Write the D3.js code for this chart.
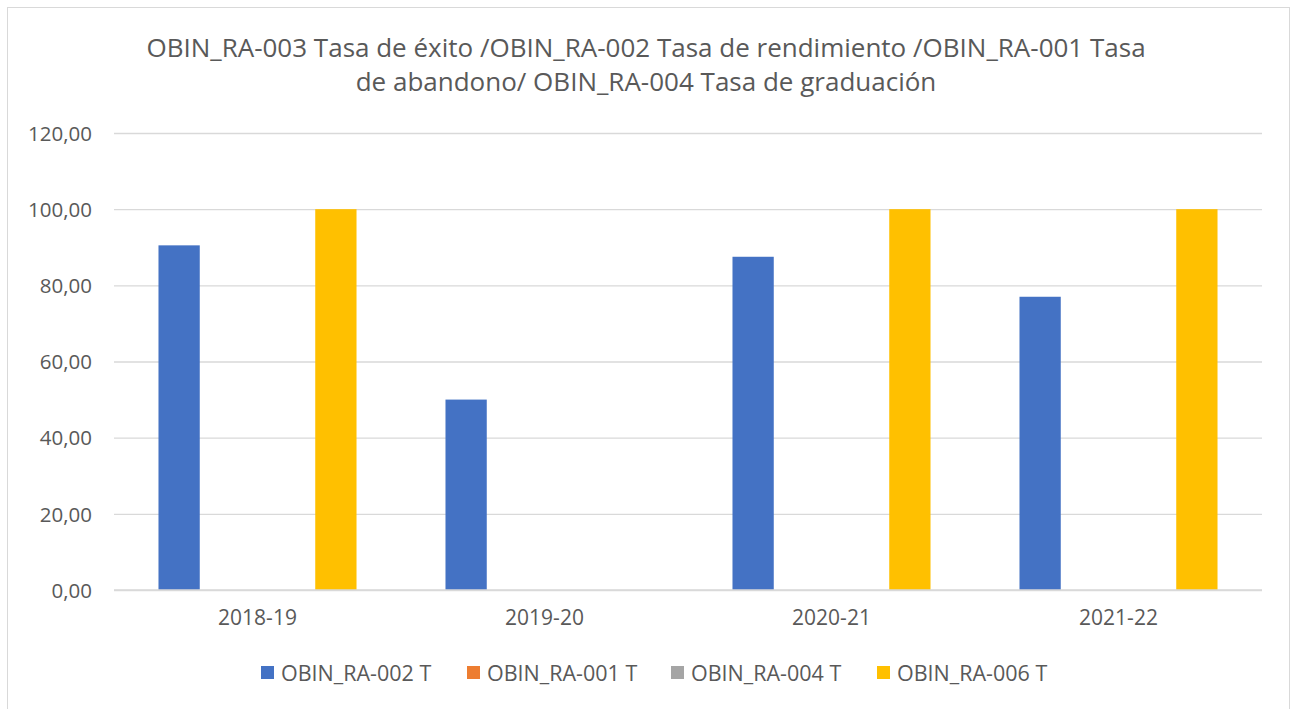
<!DOCTYPE html>
<html>
<head>
<meta charset="utf-8">
<script src="https://cdn.jsdelivr.net/npm/d3@7"></script>
<style>
  html, body { margin: 0; padding: 0; background: #fff; }
  svg { display: block; }
  text { font-family: "Open Sans", "Noto Sans", sans-serif; fill: #595959; }
</style>
</head>
<body>
<svg id="chart" width="1291" height="709"></svg>
<script>
const categories = ["2018-19", "2019-20", "2020-21", "2021-22"];
const seriesNames = ["OBIN_RA-002 T", "OBIN_RA-001 T", "OBIN_RA-004 T", "OBIN_RA-006 T"];
const seriesRA002 = [90.5, 50, 87.5, 77];
const seriesRA001 = [0, 0, 0, 0];
const seriesRA004 = [0, 0, 0, 0];
const seriesRA006 = [100, 0, 100, 100];
const yTicks = [0, 20, 40, 60, 80, 100, 120];
const titleLines = [
  "OBIN_RA-003 Tasa de éxito /OBIN_RA-002 Tasa de rendimiento /OBIN_RA-001 Tasa",
  "de abandono/ OBIN_RA-004 Tasa de graduación"
];
const colors = ["#4472C4", "#ED7D31", "#A5A5A5", "#FFC000"];

const seriesValues = [seriesRA002, seriesRA001, seriesRA004, seriesRA006];
const data = categories.map((c, i) => ({
  cat: c,
  vals: seriesNames.map((s, j) => ({ key: s, value: seriesValues[j][i], color: colors[j] }))
}));

const svg = d3.select("#chart");
const FONT = '"Open Sans", "Noto Sans", sans-serif';

// outer border
svg.append("rect")
  .attr("x", 7.5).attr("y", 7.5)
  .attr("width", 1282).attr("height", 720)
  .attr("fill", "#fff").attr("stroke", "#d9d9d9").attr("stroke-width", 1);

const plot = { left: 114, right: 1262, top: 133, bottom: 590 };

const x0 = d3.scaleBand().domain(categories)
  .range([plot.left, plot.right])
  .paddingInner(0.31).paddingOuter(0.155);
const x1 = d3.scaleBand().domain(seriesNames)
  .range([0, x0.bandwidth()])
  .paddingInner(0.21);
const y = d3.scaleLinear().domain([0, 120]).range([plot.bottom, plot.top]);

// gridlines + y labels
const yAxis = d3.axisLeft(y).tickValues(yTicks)
  .tickSize(-(plot.right - plot.left))
  .tickFormat(d => d3.format(".2f")(d).replace(".", ","));
const gy = svg.append("g").attr("transform", `translate(${plot.left},0)`).call(yAxis);
gy.select(".domain").remove();
gy.selectAll(".tick line").attr("stroke", "#d9d9d9").attr("stroke-width", 1.3);
gy.selectAll(".tick text").attr("font-size", 20.5).attr("fill", "#595959")
  .attr("x", -22).attr("dy", "0.35em")
  .style("font-family", FONT);

// bars
const groups = svg.append("g").selectAll("g").data(data).join("g")
  .attr("transform", d => `translate(${x0(d.cat)},0)`);
groups.selectAll("rect").data(d => d.vals).join("rect")
  .attr("x", d => x1(d.key))
  .attr("width", x1.bandwidth())
  .attr("y", d => y(d.value))
  .attr("height", d => y(0) - y(d.value))
  .attr("fill", d => d.color);

// baseline
svg.append("line")
  .attr("x1", plot.left).attr("x2", plot.right)
  .attr("y1", y(0)).attr("y2", y(0))
  .attr("stroke", "#d9d9d9").attr("stroke-width", 1.5);

// x axis labels
const xAxis = d3.axisBottom(x0).tickSize(0).tickPadding(20);
const gx = svg.append("g").attr("transform", `translate(0,${plot.bottom})`).call(xAxis);
gx.select(".domain").remove();
gx.selectAll(".tick text").attr("font-size", 21).attr("fill", "#595959")
  .style("font-family", FONT);

// title
svg.append("g").selectAll("text").data(titleLines).join("text")
  .attr("x", 646).attr("y", (d, i) => 57 + i * 34)
  .attr("text-anchor", "middle")
  .attr("font-size", 26)
  .text(d => d);

// legend
const legendX = [261, 467, 671, 877];
const leg = svg.append("g").selectAll("g").data(seriesNames).join("g")
  .attr("transform", (d, i) => `translate(${legendX[i]},666)`);
leg.append("rect").attr("width", 13).attr("height", 13).attr("fill", (d, i) => colors[i]);
leg.append("text").attr("x", 20).attr("y", 7).attr("dy", "0.35em")
  .attr("font-size", 21.5).text(d => d);
</script>
</body>
</html>
